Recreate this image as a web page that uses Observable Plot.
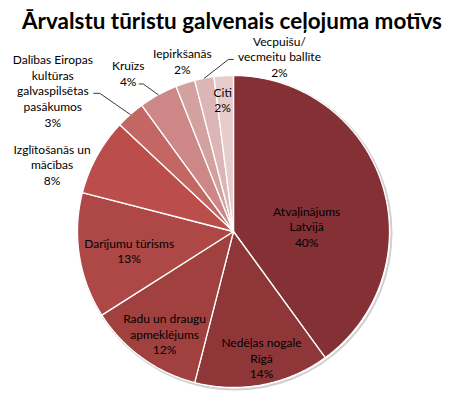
<!DOCTYPE html>
<html>
<head>
<meta charset="utf-8">
<script src="https://cdn.jsdelivr.net/npm/d3@7"></script>
<script src="https://cdn.jsdelivr.net/npm/@observablehq/plot@0.6"></script>
<style>
  html, body { margin: 0; padding: 0; background: #fff; }
  #wrap { width: 450px; height: 399px; position: relative; overflow: hidden; }
  #title { position: relative; height: 30px; width: 450px; }
  #title span { position: absolute; left: 0; top: 0; white-space: nowrap;
    font-family: Lato, sans-serif; font-weight: bold; color: #000; }
  svg { overflow: visible; }
</style>
</head>
<body>
<div id="wrap">
  <div id="title"><span id="tt">Ārvalstu tūristu galvenais ceļojuma motīvs</span></div>
  <div id="chart"></div>
</div>
<script>
// ---- data ----
const categories = [
  "Atvaļinājums\nLatvijā",
  "Nedēļas nogale\nRīgā",
  "Radu un draugu\napmeklējums",
  "Darījumu tūrisms",
  "Izglītošanās un\nmācības",
  "Dalības Eiropas\nkultūras\ngalvaspilsētas\npasākumos",
  "Kruīzs",
  "Iepirkšanās",
  "Vecpuišu/\nvecmeitu ballīte",
  "Citi"
];
const values = [40, 14, 12, 13, 8, 3, 4, 2, 2, 2];
const colors = ["#843034", "#8f3738", "#a04140", "#ad4846", "#bb4e4b", "#c46663",
                "#cc8786", "#d4a1a1", "#dcb6b6", "#e7cccc"];

// ---- layout (label placement, polar from centre, radius units) ----
const labelR =   [0.47, 0.83, 0.79, 0.68, 1.24, 1.47, 1.22, 1.14, 1.16, 0.85];
const labelNudgeDeg = [14, -1.7, -2, -1.3, -8.5, -10.6, -4.8, 1.3, 25.5, -1.1];
// leader lines: pixel offsets from label centre [elbowDx, elbowDy, endDx]
const leaders = [[5, 47, 3, 41], [6, 15, 11, 11], [8, -51, 3, -46]];

const R = 156, CX = 233, CY = 201, H = 369;
const pie = d3.pie().sort(null).value(d => d)(values);

const slicePts = [];
pie.forEach((p, i) => {
  slicePts.push({i, x: 0, y: 0});
  const n = Math.max(2, Math.ceil((p.endAngle - p.startAngle) / 0.01));
  for (let k = 0; k <= n; k++) {
    const a = p.startAngle + (p.endAngle - p.startAngle) * k / n;
    slicePts.push({i, x: Math.sin(a), y: Math.cos(a)});
  }
  slicePts.push({i, x: 0, y: 0});
});

const labels = pie.map((p, i) => {
  const a = (p.startAngle + p.endAngle) / 2 + labelNudgeDeg[i] * Math.PI / 180;
  return {i, x: labelR[i] * Math.sin(a), y: labelR[i] * Math.cos(a),
          text: categories[i] + "\n" + values[i] + "%"};
});

const leaderPts = [];
leaders.forEach(([i, ex, ey, endx]) => {
  const p = pie[i];
  const a = (p.startAngle + p.endAngle) / 2;
  const L = labels[i];
  leaderPts.push({g: i, x: Math.sin(a), y: Math.cos(a)});
  leaderPts.push({g: i, x: L.x + ex / R, y: L.y - ey / R});
  leaderPts.push({g: i, x: L.x + endx / R, y: L.y - ey / R});
});

const chart = Plot.plot({
  width: 450,
  height: H,
  margin: 0,
  x: {domain: [-1, 1], range: [CX - R, CX + R], axis: null},
  y: {domain: [-1, 1], range: [CY + R, CY - R], axis: null},
  color: {type: "identity"},
  style: {background: "transparent", overflow: "visible"},
  marks: [
    Plot.dot([{x: 0, y: 0}], {x: "x", y: "y", r: R + 0.5, fill: "none", stroke: "#d0d0d0",
      strokeWidth: 2, dx: 1.5, dy: 1.5}),
    Plot.line(slicePts, {x: "x", y: "y", z: "i", fill: d => colors[d.i],
      stroke: "white", strokeWidth: 1.3, strokeLinejoin: "round", curve: "linear"}),
    Plot.line(leaderPts, {x: "x", y: "y", z: "g", stroke: "#222", strokeWidth: 0.9}),
    Plot.text(labels, {x: "x", y: "y", text: "text", fontSize: 12, lineHeight: 1.3,
      fontFamily: "Lato, sans-serif", fill: "#000", textAnchor: "middle", lineAnchor: "middle"})
  ]
});
document.getElementById("chart").appendChild(chart);

// fit the title to the reference width and position
const tt = document.getElementById("tt");
tt.style.fontSize = "20px";
let w = tt.getBoundingClientRect().width;
const fs = 20 * 420 / w;
tt.style.fontSize = fs + "px";
tt.style.lineHeight = "1";
w = tt.getBoundingClientRect().width;
tt.style.left = (232 - w / 2) + "px";
// baseline approx at y=28
tt.style.top = (28 - fs * 0.82) + "px";
</script>
</body>
</html>
